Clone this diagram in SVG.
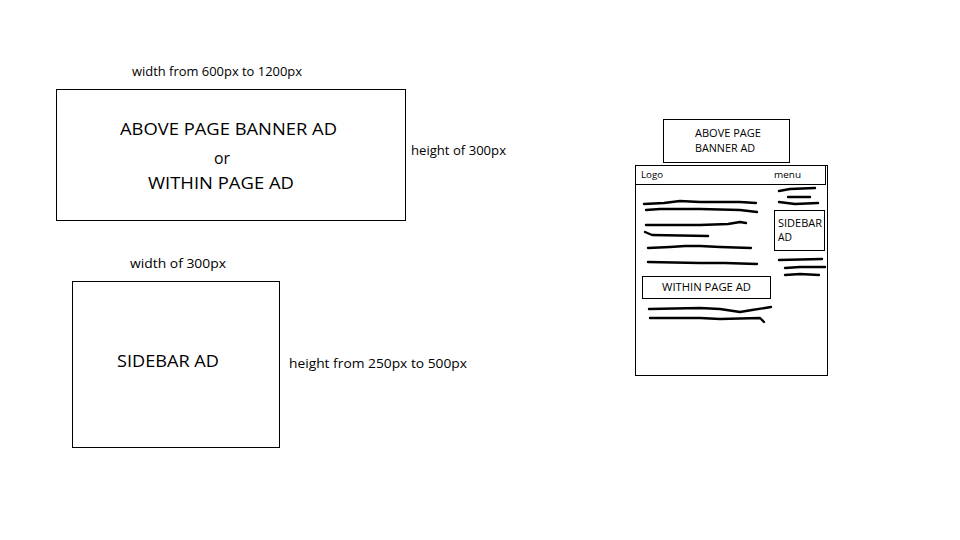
<svg xmlns="http://www.w3.org/2000/svg" width="960" height="540" viewBox="0 0 960 540">
<style>
.box{fill:#fff;stroke:#000;stroke-width:1}
.t{font-family:"Open Sans","Liberation Sans",sans-serif;fill:#000}
.sq{fill:none;stroke:#000;stroke-width:2.4;stroke-linecap:round;stroke-linejoin:round}
</style>
<rect width="960" height="540" fill="#fff"/>
<g id="banner-ad">
<text class="t" x="132" y="76" font-size="12.5" textLength="170" lengthAdjust="spacingAndGlyphs">width from 600px to 1200px</text>
<rect class="box" x="56.5" y="89.5" width="349" height="131"/>
<text class="t" x="120" y="135" font-size="17" textLength="217" lengthAdjust="spacingAndGlyphs">ABOVE PAGE BANNER AD</text>
<text class="t" x="214" y="164" font-size="17" textLength="16" lengthAdjust="spacingAndGlyphs">or</text>
<text class="t" x="148" y="189" font-size="17" textLength="146" lengthAdjust="spacingAndGlyphs">WITHIN PAGE AD</text>
<text class="t" x="411" y="155" font-size="12.5" textLength="95" lengthAdjust="spacingAndGlyphs">height of 300px</text>
</g>
<g id="sidebar-ad">
<text class="t" x="130" y="268" font-size="12.5" textLength="96" lengthAdjust="spacingAndGlyphs">width of 300px</text>
<rect class="box" x="72.5" y="281.5" width="207" height="166"/>
<text class="t" x="117" y="367" font-size="17" textLength="102" lengthAdjust="spacingAndGlyphs">SIDEBAR AD</text>
<text class="t" x="289" y="368" font-size="12.5" textLength="178" lengthAdjust="spacingAndGlyphs">height from 250px to 500px</text>
</g>
<g id="mockup-banner">
<rect class="box" x="663.5" y="119.5" width="126" height="43"/>
<text class="t" x="695" y="137" font-size="10.5" textLength="66" lengthAdjust="spacingAndGlyphs">ABOVE PAGE</text>
<text class="t" x="695" y="152" font-size="10.5" textLength="60" lengthAdjust="spacingAndGlyphs">BANNER AD</text>
</g>
<g id="mockup-page">
<rect class="box" x="635.5" y="165.5" width="192" height="210"/>
<rect class="box" x="635.5" y="165.5" width="190" height="19"/>
<text class="t" x="641" y="178" font-size="8.5" textLength="22" lengthAdjust="spacingAndGlyphs">Logo</text>
<text class="t" x="774" y="178" font-size="8.5" textLength="27" lengthAdjust="spacingAndGlyphs">menu</text>
</g>
<g id="mockup-sidebar">
<rect class="box" x="774.5" y="210.5" width="50" height="40"/>
<text class="t" x="778" y="227" font-size="10" textLength="44" lengthAdjust="spacingAndGlyphs">SIDEBAR</text>
<text class="t" x="778" y="241" font-size="10" textLength="14" lengthAdjust="spacingAndGlyphs">AD</text>
</g>
<g id="mockup-within">
<rect class="box" x="642.5" y="276.5" width="128" height="22"/>
<text class="t" x="662" y="291" font-size="10" textLength="89" lengthAdjust="spacingAndGlyphs">WITHIN PAGE AD</text>
</g>
<g id="text-lines">
<path class="sq" d="M644 204 L664 203 L672 202 L680 201 L700 202 L740 202 L756 203"/>
<path class="sq" d="M646 210 L660 209 L700 209 L740 210 L757 212"/>
<path class="sq" d="M646 225 L700 225 L728 224 L740 222 L746 223"/>
<path class="sq" d="M645 232 L652 235 L708 236"/>
<path class="sq" d="M648 248 L670 247 L685 246 L700 246 L720 247 L751 248"/>
<path class="sq" d="M648 262 L700 263 L725 263 L757 264"/>
<path class="sq" d="M649 309 L700 308 L720 309 L740 312 L752 310 L771 307"/>
<path class="sq" d="M650 318 L700 318 L720 319 L760 318 L764 322"/>
<path class="sq" d="M779 191 L790 189 L815 188"/>
<path class="sq" d="M788 197 L810 197"/>
<path class="sq" d="M779 202 L795 204 L818 203"/>
<path class="sq" d="M779 260 L822 259"/>
<path class="sq" d="M785 268 L800 267 L825 267"/>
<path class="sq" d="M785 275 L800 274 L819 275"/>
</g>
</svg>
